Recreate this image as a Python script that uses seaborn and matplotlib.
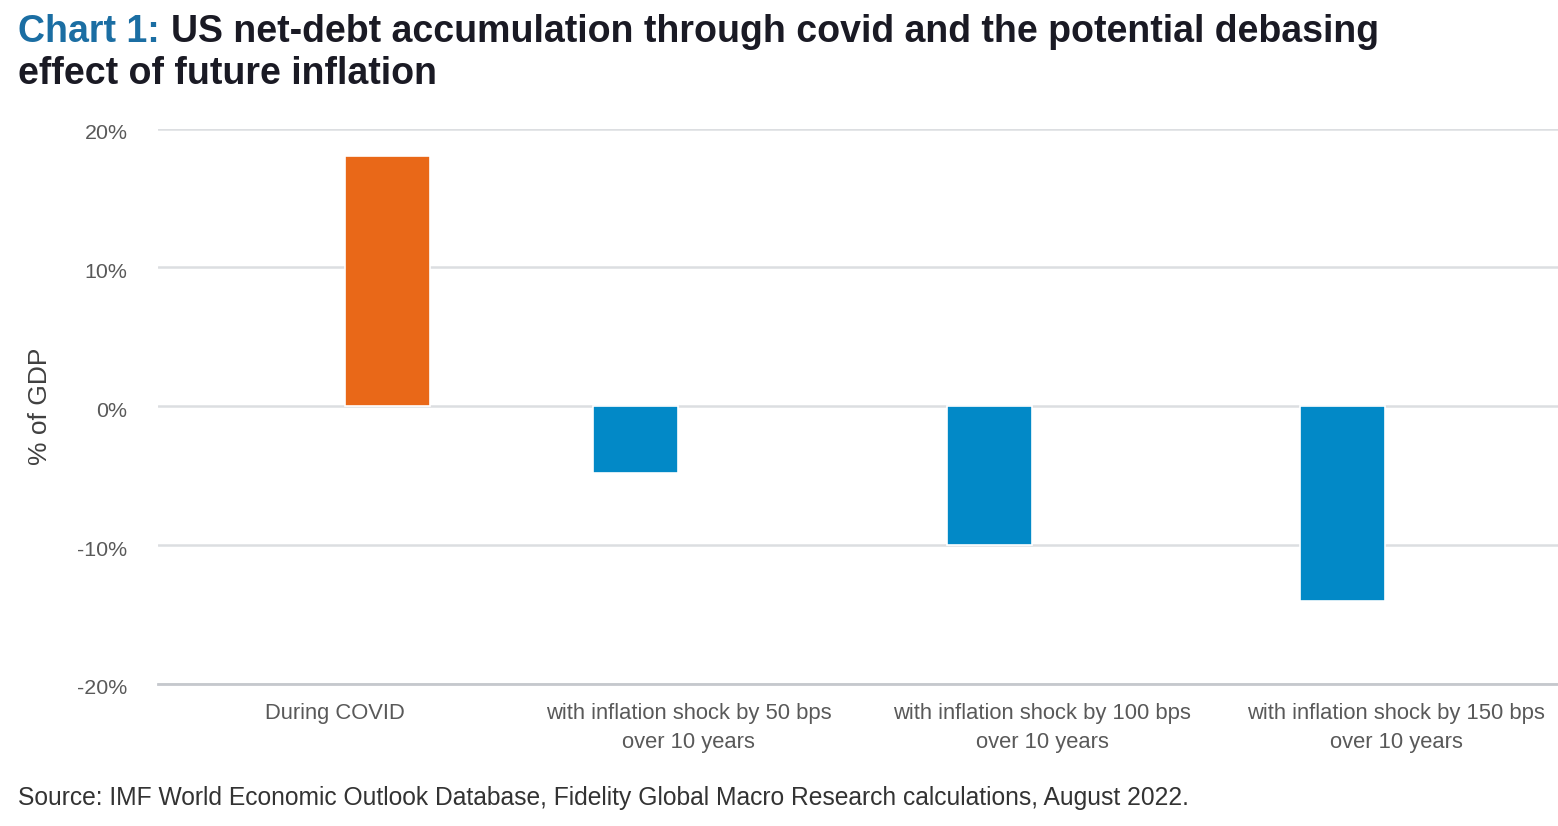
import matplotlib
matplotlib.use("Agg")
import matplotlib.pyplot as plt
import seaborn as sns
import pandas as pd
from matplotlib.ticker import FuncFormatter

# ---- data ----
categories = [
    "During COVID",
    "with inflation shock by 50 bps\nover 10 years",
    "with inflation shock by 100 bps\nover 10 years",
    "with inflation shock by 150 bps\nover 10 years",
]
accumulation_categories = ["During COVID"]
accumulation_values = [18.0]
debasing_categories = categories[1:]
debasing_values = [-4.8, -10.0, -14.0]
series_names = ["Debasing effect", "Net-debt accumulation"]
y_ticks = [-20, -10, 0, 10, 20]

df = pd.DataFrame({
    "category": accumulation_categories + debasing_categories,
    "series": [series_names[1]] * len(accumulation_values) + [series_names[0]] * len(debasing_values),
    "value": accumulation_values + debasing_values,
})

sns.set_theme(style="white")
plt.rcParams["font.family"] = ["Liberation Sans", "DejaVu Sans"]

W, H = 1558, 826
fig = plt.figure(figsize=(W / 100, H / 100), dpi=100)
ax = fig.add_axes([158 / W, (H - 684) / H, 1400 / W, (684 - 128.5) / H])

palette = {series_names[0]: "#0289C7", series_names[1]: "#E96818"}
sns.barplot(
    data=df, x="category", y="value", hue="series",
    order=categories, hue_order=series_names, palette=palette,
    width=0.6, gap=0.2, dodge=True, legend=False, ax=ax,
    edgecolor="white", linewidth=1.2, saturation=1, zorder=3,
)

ax.set_xlim(-0.5, 3.458)
ax.set_ylim(-20, 20)
ax.set_yticks(y_ticks)
ax.yaxis.set_major_formatter(FuncFormatter(lambda v, p: f"{v:.0f}%"))
ax.grid(axis="y", color="#DCDEE1", linewidth=1.8, zorder=0)
ax.grid(axis="x", visible=False)
ax.set_axisbelow(True)
for s in ["top", "right", "left"]:
    ax.spines[s].set_visible(False)
ax.spines["bottom"].set_color("#C5C8CD")
ax.spines["bottom"].set_linewidth(2)

ax.tick_params(axis="y", length=0, pad=22, labelsize=15.4, labelcolor="#595959")
ax.tick_params(axis="x", length=0, pad=14, labelsize=15.8, labelcolor="#595959")
for lab in ax.get_xticklabels():
    lab.set_linespacing(1.5)
for lab in ax.get_yticklabels():
    lab.set_va("top")
    lab.set_y(lab.get_position()[1])
ax.tick_params(axis="y")
from matplotlib.transforms import ScaledTranslation
off = ScaledTranslation(0, -3 / 100, fig.dpi_scale_trans)
for lab in ax.get_yticklabels():
    lab.set_va("center_baseline")
    lab.set_transform(lab.get_transform() + off)
ax.set_xlabel("")
ax.set_ylabel("% of GDP", fontsize=19, color="#404040")
ax.yaxis.set_label_coords((52 - 158) / 1400, 0.5)

# title
fig.canvas.draw()
renderer = fig.canvas.get_renderer()
t1 = fig.text(18 / W, 1 - 32 / H, "Chart 1:", fontsize=27, fontweight="bold",
              color="#1B6EA3", va="center", ha="left")
bb = t1.get_window_extent(renderer=renderer)
fig.text((bb.x1 + 11) / W, 1 - 32 / H,
         "US net-debt accumulation through covid and the potential debasing",
         fontsize=27, fontweight="bold", color="#1A1A24", va="center", ha="left")
fig.text(18 / W, 1 - 74 / H, "effect of future inflation", fontsize=27,
         fontweight="bold", color="#1A1A24", va="center", ha="left")

fig.text(18 / W, 1 - 798 / H,
         "Source: IMF World Economic Outlook Database, Fidelity Global Macro Research calculations, August 2022.",
         fontsize=17.7, color="#333333", va="center", ha="left")

fig.savefig("out.png", dpi=100)
